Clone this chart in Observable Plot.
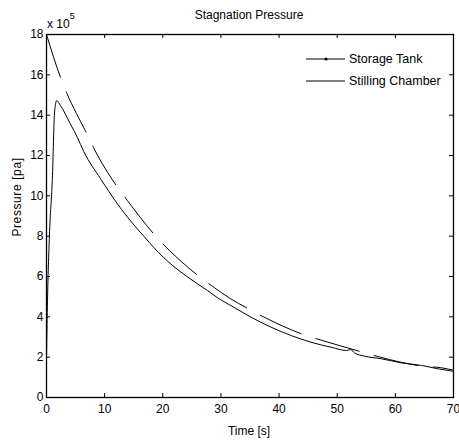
<!DOCTYPE html>
<html>
<head>
<meta charset="utf-8">
<script src="https://cdn.jsdelivr.net/npm/d3@7"></script>
<script src="https://cdn.jsdelivr.net/npm/@observablehq/plot@0.6"></script>
<style>
  html, body { margin: 0; padding: 0; background: white; }
</style>
</head>
<body>
<div id="chart"></div>
<script>
// Pressure values in units of 10^5 Pa
const tankTime = [0, 2.5, 3.5, 7.0, 8.2, 12.2, 13.9, 18.7, 20.6, 26.4, 28.6, 31.7, 35.3, 37.8, 44.8, 47.4, 54.7, 57.4, 65.1, 67.8, 70];
const tankPressure = [18, 15.8, 15.09, 13.04, 12.33, 10.43, 9.77, 8.03, 7.45, 5.97, 5.5, 4.89, 4.31, 3.93, 3.06, 2.83, 2.22, 2.0, 1.54, 1.48, 1.35];

const chamberTime = [0, 0.15, 0.5, 1.0, 1.4, 1.75, 2.4, 4.1, 5.3, 6.4, 9.3, 12.2, 15.05, 16.8, 18.5, 21.7, 24.3, 27.7, 29.7, 31.7, 35.2, 38.6, 42.1, 45.5, 49, 51.6, 52.3, 53.0, 54.7, 57.6, 61, 64.5, 67.4, 70];
const chamberPressure = [2.0, 4.5, 8.0, 10.8, 14.2, 14.72, 14.48, 13.57, 12.9, 12.2, 10.85, 9.6, 8.55, 7.98, 7.42, 6.54, 5.97, 5.3, 4.89, 4.56, 3.98, 3.49, 3.07, 2.74, 2.49, 2.33, 2.38, 2.2, 2.05, 1.92, 1.72, 1.59, 1.42, 1.30];

const xTicks = [0, 10, 20, 30, 40, 50, 60, 70];
const yTicks = [0, 2, 4, 6, 8, 10, 12, 14, 16, 18];

const seriesNames = ["Storage Tank", "Stilling Chamber"];
const titleText = "Stagnation Pressure";
const xLabel = "Time [s]";
const yLabel = "Pressure [pa]";

const tank = tankTime.map((t, i) => ({t, p: tankPressure[i]}));
const chamber = chamberTime.map((t, i) => ({t, p: chamberPressure[i]}));

const W = 459, H = 443, mL = 46, mR = 6, mT = 34, mB = 46;
const innerW = W - mL - mR, innerH = H - mT - mB;
const tickLen = 4;

const svg = Plot.plot({
  width: W, height: H,
  marginLeft: mL, marginRight: mR, marginTop: mT, marginBottom: mB,
  style: {fontFamily: "'Liberation Sans', Arial, sans-serif", fontSize: "12px", color: "black", background: "white"},
  x: {domain: [0, 70]},
  y: {domain: [0, 18]},
  marks: [
    Plot.line(tank, {x: "t", y: "p", stroke: "black", strokeWidth: 1, strokeDasharray: "45,15.5", curve: "monotone-x"}),
    Plot.line(chamber, {x: "t", y: "p", stroke: "black", strokeWidth: 1, curve: "monotone-x"}),
    Plot.tickX(xTicks, {x: d => d, insetTop: innerH - tickLen, stroke: "black"}),
    Plot.tickX(xTicks, {x: d => d, insetBottom: innerH - tickLen, stroke: "black"}),
    Plot.tickY(yTicks, {y: d => d, insetRight: innerW - tickLen, stroke: "black"}),
    Plot.tickY(yTicks, {y: d => d, insetLeft: innerW - tickLen, stroke: "black"}),
    Plot.axisX({ticks: xTicks, tickSize: 0, tickPadding: 7, label: null}),
    Plot.axisY({ticks: yTicks, tickSize: 0, tickPadding: 3, label: null}),
    Plot.frame({stroke: "black", strokeWidth: 1.3})
  ]
});

const s = d3.select(svg);
const font = "'Liberation Sans', Arial, sans-serif";

// Title
s.append("text").attr("x", 249).attr("y", 19).attr("text-anchor", "middle")
  .attr("font-family", font).attr("font-size", 12).attr("fill", "black").text(titleText);

// x 10^5 exponent label
const ex = s.append("text").attr("x", 47).attr("y", 28).attr("text-anchor", "start")
  .attr("font-family", font).attr("font-size", 12).attr("fill", "black");
ex.append("tspan").text("x 10");
ex.append("tspan").attr("dy", -9).attr("font-size", 9).text("5");

// Axis labels
s.append("text").attr("x", 249).attr("y", 435).attr("text-anchor", "middle")
  .attr("font-family", font).attr("font-size", 12).attr("fill", "black").text(xLabel);
s.append("text").attr("transform", "translate(17,197) rotate(-90)").attr("text-anchor", "middle")
  .attr("dominant-baseline", "central")
  .attr("font-family", font).attr("font-size", 12).attr("fill", "black").attr("letter-spacing", 0.6).text(yLabel);

// Legend
const legendY = [59, 81];
seriesNames.forEach((name, i) => {
  const y = legendY[i];
  s.append("line").attr("x1", 306).attr("x2", 345).attr("y1", y).attr("y2", y)
    .attr("stroke", "black").attr("stroke-width", 1);
  if (i === 0) s.append("circle").attr("cx", 326).attr("cy", y).attr("r", 1.6).attr("fill", "black");
  s.append("text").attr("x", 349).attr("y", y).attr("text-anchor", "start").attr("dominant-baseline", "central")
    .attr("font-family", font).attr("font-size", 12.5).attr("fill", "black").text(name);
});

document.getElementById("chart").appendChild(svg);
</script>
</body>
</html>
